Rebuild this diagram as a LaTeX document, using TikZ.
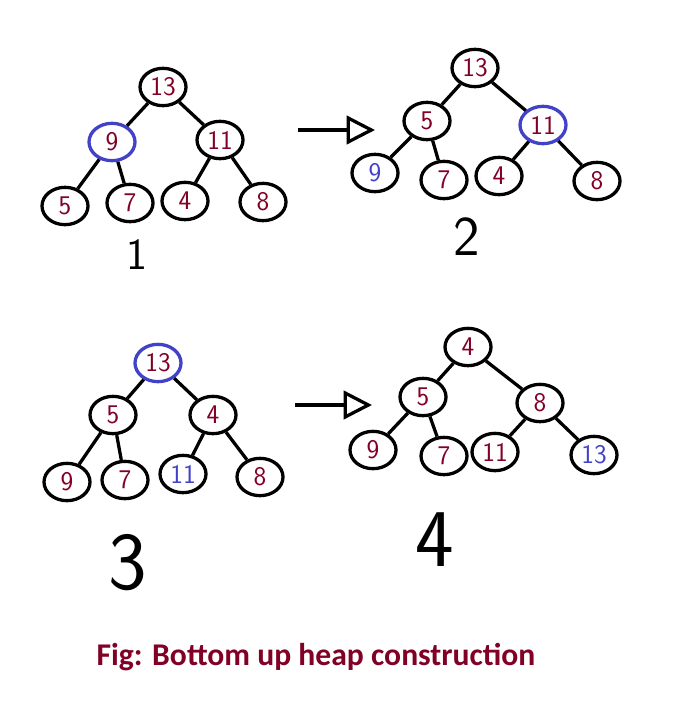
\documentclass[tikz,border=0pt]{standalone}
\usepackage{fontspec}
\newfontfamily\capfont{Carlito}
\usetikzlibrary{arrows.meta,shapes.geometric}
\definecolor{heapred}{RGB}{128,0,38}
\definecolor{heapblue}{RGB}{66,66,200}
\tikzset{
  hnode/.style={draw,ellipse,line width=2.8pt,inner sep=0pt,minimum width=1.38cm,minimum height=1.12cm,text=heapred,font=\sffamily\fontsize{23}{23}\selectfont},
  sifted/.style={draw=heapblue},
  link/.style={line width=2.8pt},
  steparrow/.style={line width=2.8pt,-{Triangle[open,length=0.85cm,width=0.85cm,line width=2.8pt]}},
  stepno/.style={font=\sffamily\fontsize{#1}{#1}\selectfont},
}
\begin{document}
\begin{tikzpicture}[x=0.03cm,y=-0.03cm]
\useasboundingbox (0,0) rectangle (681,702);
% tree 1
\foreach \n/\x/\y/\v in {a13/163/87/13,a11/220/140/11,a5/65/206/5,a7/130/203/7,a4/185/201/4,a8/263/202/8}
  \node[hnode] (\n) at (\x,\y) {\v};
\node[hnode,sifted] (a9) at (112,142) {9};
\node[stepno=38] (s1) at (137,255) {1};
% tree 2
\foreach \n/\x/\y/\v in {b13/475/68/13,b5/427/121/5,b7/444/180/7,b4/499/176/4,b8/597/181/8}
  \node[hnode] (\n) at (\x,\y) {\v};
\node[hnode,text=heapblue] (b9) at (375,173) {9};
\node[hnode,sifted] (b11) at (543,125) {11};
\node[stepno=48] (s2) at (467,237) {2};
% tree 3
\foreach \n/\x/\y/\v in {c5/113/415/5,c4/213/415/4,c9/67/482/9,c7/125/480/7,c8/260/477/8}
  \node[hnode] (\n) at (\x,\y) {\v};
\node[hnode,sifted] (c13) at (158,363) {13};
\node[hnode,text=heapblue] (c11) at (183,474) {11};
\node[stepno=70] (s3) at (128,563) {3};
% tree 4
\foreach \n/\x/\y/\v in {d4/468/347/4,d5/423/397/5,d8/540/403/8,d9/373/450/9,d7/444/456/7,d11/495/452/11}
  \node[hnode] (\n) at (\x,\y) {\v};
\node[hnode,text=heapblue] (d13) at (594,455) {13};
\node[stepno=70] (s4) at (435,540) {4};
% edges
\foreach \p/\c in {a13/a9,a13/a11,a9/a5,a9/a7,a11/a4,a11/a8,
                   b13/b5,b13/b11,b5/b9,b5/b7,b11/b4,b11/b8,
                   c13/c5,c13/c4,c5/c9,c5/c7,c4/c11,c4/c8,
                   d4/d5,d4/d8,d5/d9,d5/d7,d8/d11,d8/d13}
  \draw[link] (\p) -- (\c);
% arrows between steps
\coordinate (r1a) at (298,130);
\coordinate (r1b) at (375,130);
\coordinate (r2a) at (295,405);
\coordinate (r2b) at (372,405);
\draw[steparrow] (r1a) -- (r1b);
\draw[steparrow] (r2a) -- (r2b);
\node[font=\capfont\bfseries\fontsize{27}{30}\selectfont,text=heapred] (cap) at (316,657) {Fig: Bottom up heap construction};
\end{tikzpicture}
\end{document}
